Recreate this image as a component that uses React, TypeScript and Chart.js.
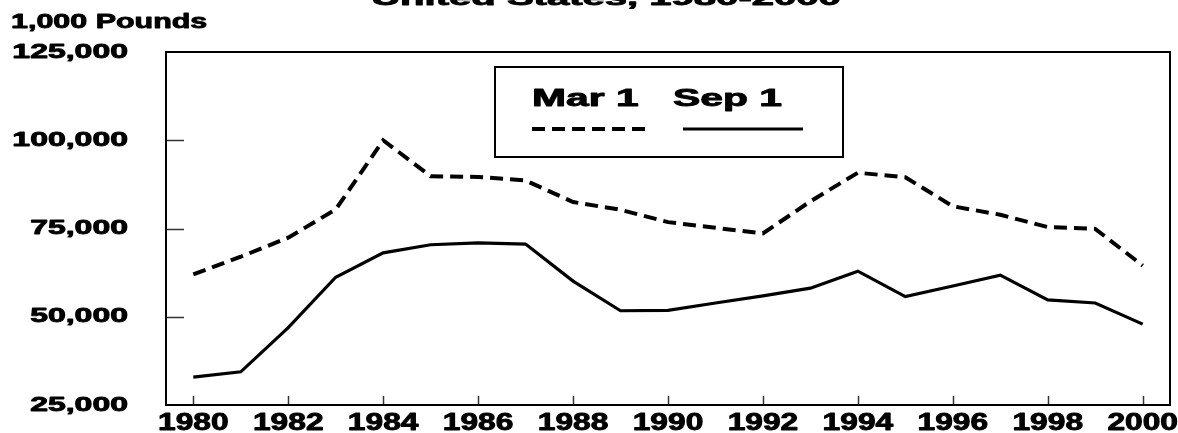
import React, { useEffect, useRef } from "react";
import { Chart, registerables } from "chart.js";

Chart.register(...registerables);

// ---- Data ----
const years = [1980, 1981, 1982, 1983, 1984, 1985, 1986, 1987, 1988, 1989, 1990, 1991, 1992, 1993, 1994, 1995, 1996, 1997, 1998, 1999, 2000];
const mar1Stocks = [62000, 67000, 72400, 80400, 100000, 89800, 89600, 88600, 82500, 80300, 76800, 75200, 73600, 82700, 90800, 89500, 81300, 78900, 75400, 74900, 64500];
const sep1Stocks = [32900, 34400, 46900, 61200, 68100, 70400, 70900, 70600, 60100, 51700, 51800, 53900, 55900, 58100, 62900, 55700, 58700, 61800, 54800, 53900, 47900];
const xTickYears = [1980, 1982, 1984, 1986, 1988, 1990, 1992, 1994, 1996, 1998, 2000];
const yTickValues = [25000, 50000, 75000, 100000, 125000];
const seriesLabels = ["Mar 1", "Sep 1"];
const titleLine = "United States, 1980-2000";
const unitLabel = "1,000 Pounds";

const FONT = "'Liberation Sans', Arial, Helvetica, sans-serif";

function fmt(v: number): string {
  return String(v).replace(/\B(?=(\d{3})+(?!\d))/g, ",");
}

function stretchText(
  ctx: CanvasRenderingContext2D,
  text: string,
  x: number,
  y: number,
  size: number,
  sx: number,
  align: CanvasTextAlign,
  baseline: CanvasTextBaseline
) {
  ctx.save();
  ctx.font = `bold ${size}px ${FONT}`;
  ctx.fillStyle = "#000";
  ctx.strokeStyle = "#000";
  ctx.lineWidth = 0.9;
  ctx.lineJoin = "round";
  ctx.textAlign = align;
  ctx.textBaseline = baseline;
  ctx.translate(x, y);
  ctx.scale(sx, 1);
  ctx.fillText(text, 0, 0);
  ctx.strokeText(text, 0, 0);
  ctx.restore();
}

const decorPlugin = {
  id: "decor",
  afterDraw(chart: any) {
    const ctx: CanvasRenderingContext2D = chart.ctx;
    const a = chart.chartArea;
    const xs = chart.scales.x;
    const ys = chart.scales.y;
    ctx.save();

    // inward tick marks
    ctx.strokeStyle = "#333";
    ctx.lineWidth = 1.5;
    ctx.setLineDash([]);
    yTickValues.forEach((v) => {
      if (v === ys.min || v === ys.max) return;
      const py = Math.round(ys.getPixelForValue(v)) + 0.5;
      ctx.beginPath();
      ctx.moveTo(a.left, py);
      ctx.lineTo(a.left + 18, py);
      ctx.stroke();
    });
    xTickYears.forEach((v) => {
      const px = Math.round(xs.getPixelForValue(v)) + 0.5;
      ctx.beginPath();
      ctx.moveTo(px, a.bottom);
      ctx.lineTo(px, a.bottom - 9);
      ctx.stroke();
    });

    // frame
    ctx.strokeStyle = "#000";
    ctx.lineWidth = 2;
    ctx.strokeRect(a.left, a.top, a.right - a.left, a.bottom - a.top);

    // axis labels
    yTickValues.forEach((v) =>
      stretchText(ctx, fmt(v), 128, ys.getPixelForValue(v), 20, 1.6, "right", "middle")
    );
    xTickYears.forEach((v) =>
      stretchText(ctx, String(v), xs.getPixelForValue(v), 430, 23, 1.38, "center", "alphabetic")
    );
    stretchText(ctx, unitLabel, 11, 28, 21, 1.45, "left", "alphabetic");
    stretchText(ctx, titleLine, 606, 5, 22, 1.82, "center", "alphabetic");

    // legend box
    const bx = 495, by = 67, bw = 348, bh = 90;
    ctx.fillStyle = "#fff";
    ctx.fillRect(bx, by, bw, bh);
    ctx.strokeStyle = "#000";
    ctx.lineWidth = 2;
    ctx.strokeRect(bx, by, bw, bh);
    const textX = [532, 673];
    const lineX = [[532, 650], [683, 803]];
    chart.data.datasets.forEach((ds: any, i: number) => {
      stretchText(ctx, ds.label, textX[i], 106, 24, 1.7, "left", "alphabetic");
      ctx.save();
      ctx.strokeStyle = "#000";
      ctx.lineWidth = ds.borderWidth;
      ctx.setLineDash(ds.borderDash || []);
      ctx.beginPath();
      ctx.moveTo(lineX[i][0], 129);
      ctx.lineTo(lineX[i][1], 129);
      ctx.stroke();
      ctx.restore();
    });

    ctx.restore();
  },
};

export default function App() {
  const canvasRef = useRef<HTMLCanvasElement | null>(null);

  useEffect(() => {
    if (!canvasRef.current) return;
    const chart = new Chart(canvasRef.current, {
      type: "line",
      data: {
        datasets: [
          {
            label: seriesLabels[0],
            data: years.map((y, i) => ({ x: y, y: mar1Stocks[i] })),
            borderColor: "#000",
            borderWidth: 4,
            borderDash: [13, 7],
            pointRadius: 0,
            tension: 0,
            fill: false,
          },
          {
            label: seriesLabels[1],
            data: years.map((y, i) => ({ x: y, y: sep1Stocks[i] })),
            borderColor: "#000",
            borderWidth: 3.2,
            pointRadius: 0,
            tension: 0,
            fill: false,
          },
        ],
      },
      options: {
        responsive: true,
        maintainAspectRatio: false,
        animation: false,
        layout: { padding: { left: 166, right: 8, top: 52, bottom: 28 } },
        plugins: {
          legend: { display: false },
          title: { display: false },
          tooltip: { enabled: false },
        },
        scales: {
          x: {
            type: "linear",
            display: false,
            min: 1979.425,
            max: 2000.575,
          },
          y: {
            type: "linear",
            display: false,
            min: yTickValues[0],
            max: yTickValues[yTickValues.length - 1],
          },
        },
      },
      plugins: [decorPlugin],
    });
    return () => chart.destroy();
  }, []);

  return (
    <div
      style={{
        position: "absolute",
        left: 0,
        top: 0,
        width: 1178,
        height: 433,
        background: "#fff",
      }}
    >
      <canvas ref={canvasRef} />
    </div>
  );
}
